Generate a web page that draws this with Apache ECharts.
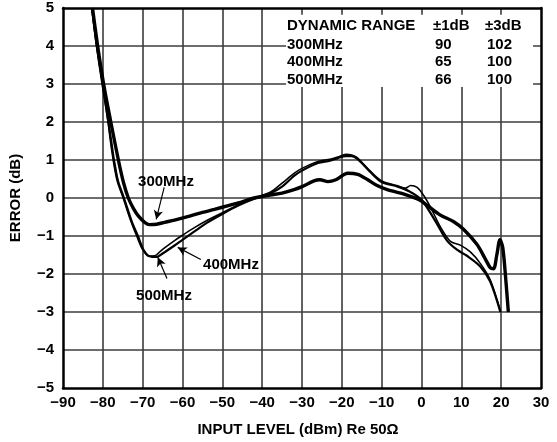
<!DOCTYPE html>
<html>
<head>
<meta charset="utf-8">
<script src="https://cdn.jsdelivr.net/npm/echarts@6/dist/echarts.min.js"></script>
<style>
html,body{margin:0;padding:0;background:#fff;}
#c{width:557px;height:442px;}
</style>
</head>
<body>
<div id="c"></div>
<script>
// ---- data ----
const xTicks = [-90, -80, -70, -60, -50, -40, -30, -20, -10, 0, 10, 20, 30];
const yTicks = [-5, -4, -3, -2, -1, 0, 1, 2, 3, 4, 5];

const s300 = [[-82.6,5],[-81.3,4],[-79.8,3],[-78.0,2],[-76.1,1],[-74.8,0.4],[-73.6,0],[-72.3,-0.28],[-71.1,-0.47],[-69.5,-0.64],[-68.3,-0.7],[-66.5,-0.69],[-64.5,-0.64],[-62,-0.58],[-58,-0.47],[-55,-0.38],[-52,-0.3],[-48.5,-0.2],[-45,-0.1],[-42,0.0],[-38,0.08],[-35,0.13],[-32,0.22],[-30,0.3],[-27,0.45],[-25.5,0.48],[-23.5,0.43],[-21.5,0.48],[-18.5,0.65],[-16,0.62],[-13.5,0.48],[-11,0.32],[-8.6,0.22],[-4.4,0.1],[-0.5,-0.05],[1.5,-0.2],[4.75,-0.45],[8,-0.62],[10.6,-0.83],[13.9,-1.22],[16,-1.6],[17.3,-1.84],[18.1,-1.86],[18.9,-1.5],[19.7,-1.1],[20.4,-1.3],[21.2,-2.2],[21.8,-3.0]];
const s400 = [[-82.7,5],[-81.5,4],[-80.0,3],[-78.6,2],[-77.9,1.5],[-77.2,1],[-76.2,0.45],[-74.7,0],[-72.8,-0.6],[-71.2,-1.0],[-69.8,-1.36],[-68.3,-1.53],[-66.5,-1.55],[-65,-1.46],[-62,-1.25],[-60,-1.1],[-57,-0.88],[-54,-0.66],[-50,-0.42],[-46,-0.2],[-42,-0.02],[-38,0.12],[-35,0.3],[-32,0.58],[-30,0.72],[-26,0.92],[-23,0.98],[-21,1.05],[-19,1.1],[-17.5,1.1],[-16,1.02],[-13,0.7],[-10,0.42],[-6,0.3],[-3,0.17],[0,-0.05],[2,-0.35],[4,-0.7],[6.4,-1.12],[8.9,-1.36],[11.4,-1.52],[14.75,-1.8],[17.25,-2.2],[19.8,-3.0]];
const s500 = [[-82.8,5],[-81.6,4],[-80.2,3],[-78.7,2],[-78.1,1.5],[-77.4,1],[-76.4,0.45],[-74.9,0],[-73,-0.6],[-71.5,-1.0],[-70,-1.36],[-68.5,-1.53],[-67,-1.52],[-65,-1.35],[-62,-1.12],[-60,-0.98],[-57,-0.78],[-54,-0.6],[-50,-0.39],[-46,-0.18],[-42,0.0],[-38,0.15],[-35,0.39],[-32,0.65],[-30,0.78],[-26,0.96],[-23,1.02],[-21,1.08],[-19,1.15],[-17.5,1.13],[-16,1.05],[-13,0.72],[-10,0.45],[-6,0.32],[-4,0.26],[-2.75,0.33],[-1.1,0.28],[0.6,0.06],[2.25,-0.24],[4.75,-0.76],[7.25,-1.14],[9.75,-1.24],[12.25,-1.42],[14.75,-1.72],[17.25,-2.15],[19.9,-3.0]];

const tableHeader = ['DYNAMIC RANGE', '\u00B11dB', '\u00B13dB'];
const tableRows = [['300MHz', '90', '102'], ['400MHz', '65', '100'], ['500MHz', '66', '100']];

const FONT = '"Liberation Sans", Arial, Helvetica, sans-serif';
const FS = 15;
const minus = v => String(v).replace('-', '\u2212');

const chart = echarts.init(document.getElementById('c'), null, {renderer: 'canvas'});

const gridL = 61, gridT = 8, gridR = 16, gridB = 50;

const textStyle = {fontFamily: FONT, fontWeight: 'bold', fontSize: FS, fill: '#000', verticalAlign: 'middle'};
const graphics = [];
// table
const colX = [287, 433, 485];
const rowY = [26, 44.5, 62, 80];
tableHeader.forEach((t, i) => graphics.push({type: 'text', x: colX[i], y: rowY[0], z: 100, style: Object.assign({text: t}, textStyle)}));
tableRows.forEach((r, j) => r.forEach((t, i) => graphics.push({type: 'text', x: colX[i] + (i > 0 ? 2 : 0), y: rowY[j + 1], z: 100, style: Object.assign({text: t}, textStyle)})));
// curve labels
const labels = [['300MHz', 166, 182], ['400MHz', 231, 265], ['500MHz', 164, 296]];
labels.forEach(l => graphics.push({type: 'text', x: l[1], y: l[2], z: 100, style: Object.assign({text: l[0], align: 'center'}, textStyle)}));

const arrows = [
  [[-64.6, 0.28], [-66.6, -0.56]],
  [[-55.4, -1.62], [-61.2, -1.3]],
  [[-63.9, -2.12], [-66.2, -1.56]]
];

function lineSeries(name, data, width) {
  return {
    name, type: 'line', data, showSymbol: false, symbol: 'none', smooth: 0.3,
    lineStyle: {color: '#000', width}, z: 5, animation: false, clip: true
  };
}

const series = [
  lineSeries('500MHz', s500, 1.6),
  lineSeries('400MHz', s400, 2.2),
  lineSeries('300MHz', s300, 3.4)
];
series[2].markArea = {
  silent: true,
  itemStyle: {color: '#fff', opacity: 1},
  data: [[{coord: [-34, 4.82]}, {coord: [28, 2.92]}]]
};
series[2].markLine = {
  silent: true, symbol: ['none', 'arrow'], symbolSize: [7, 9],
  lineStyle: {color: '#000', width: 1.2, type: 'solid'},
  label: {show: false},
  data: arrows.map(a => [{coord: a[0]}, {coord: a[1]}])
};

const axisLabelStyle = {color: '#000', fontFamily: FONT, fontWeight: 'bold', fontSize: FS};

chart.setOption({
  animation: false,
  backgroundColor: '#fff',
  grid: {left: gridL, top: gridT, right: gridR, bottom: gridB, containLabel: false},
  xAxis: [{
    type: 'value', min: xTicks[0], max: xTicks[xTicks.length - 1], interval: 10,
    axisLine: {show: true, onZero: false, lineStyle: {color: '#000', width: 2.5}},
    axisTick: {show: false},
    axisLabel: Object.assign({margin: 7, formatter: v => minus(v)}, axisLabelStyle),
    splitLine: {show: true, showMinLine: false, showMaxLine: false, lineStyle: {color: '#3c3c3c', width: 1.6}},
    name: 'INPUT LEVEL (dBm) Re 50\u03A9', nameLocation: 'middle', nameGap: 34,
    nameTextStyle: {color: '#000', fontFamily: FONT, fontWeight: 'bold', fontSize: FS, padding: [0, 8, 0, 0]}
  }, {
    type: 'value', position: 'top', min: xTicks[0], max: xTicks[xTicks.length - 1], interval: 10,
    axisLine: {show: true, onZero: false, lineStyle: {color: '#000', width: 2.5}},
    axisTick: {show: false}, axisLabel: {show: false}, splitLine: {show: false}
  }],
  yAxis: [{
    type: 'value', min: yTicks[0], max: yTicks[yTicks.length - 1], interval: 1,
    axisLine: {show: true, onZero: false, lineStyle: {color: '#000', width: 2.5}},
    axisTick: {show: false},
    axisLabel: Object.assign({margin: 9, formatter: v => minus(v)}, axisLabelStyle),
    splitLine: {show: true, showMinLine: false, showMaxLine: false, lineStyle: {color: '#3c3c3c', width: 1.6}},
    name: 'ERROR (dB)', nameLocation: 'middle', nameGap: 40, nameRotate: 90,
    nameTextStyle: {color: '#000', fontFamily: FONT, fontWeight: 'bold', fontSize: FS}
  }, {
    type: 'value', position: 'right', min: yTicks[0], max: yTicks[yTicks.length - 1], interval: 1,
    axisLine: {show: true, onZero: false, lineStyle: {color: '#000', width: 2.5}},
    axisTick: {show: false}, axisLabel: {show: false}, splitLine: {show: false}
  }],
  graphic: graphics,
  series
});
</script>
</body>
</html>
